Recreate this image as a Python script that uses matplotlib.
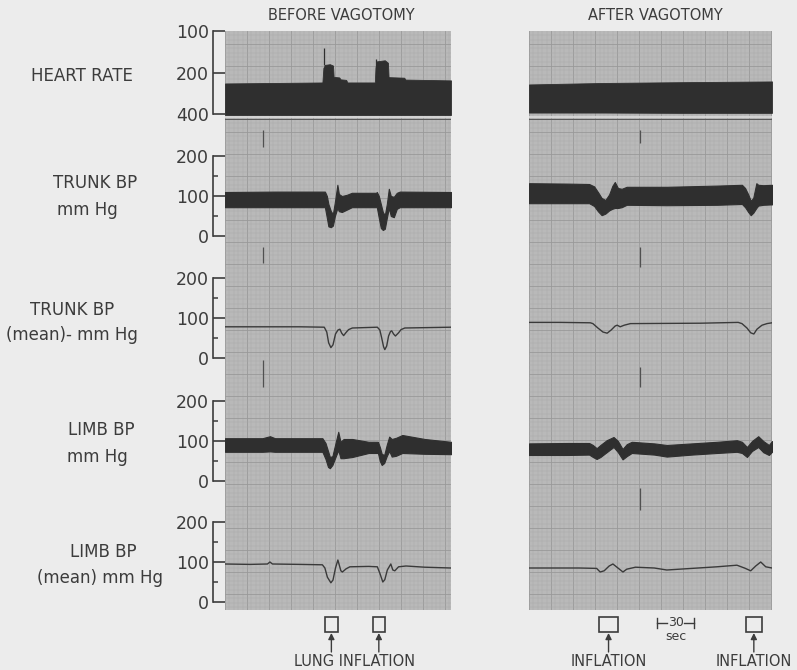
import matplotlib
matplotlib.use("Agg")
import matplotlib.pyplot as plt
from matplotlib.ticker import MultipleLocator, FixedLocator, NullLocator, FuncFormatter
from matplotlib.patches import Rectangle
from matplotlib.transforms import blended_transform_factory

# ---------------- data (time in seconds, pressures in mm Hg, heart rate in beats/min) -------------
panel_titles = ["BEFORE VAGOTOMY", "AFTER VAGOTOMY"]
panel_duration = [181, 194]

# Heart rate band (low = upper visual edge, high = lower visual edge; axis is inverted log)
hr_before_t = [0, 40, 78, 78.8, 80, 84, 86.5, 87, 91.5, 92.5, 97, 98, 120, 120.5, 121.5, 128, 130.5,
               131, 143.5, 144.5, 181]
hr_before_low = [240, 238, 236, 185, 176, 174, 178, 215, 217, 224, 226, 236, 236, 185, 166, 163, 170,
                 216, 218, 225, 228]
hr_before_high = [406] * len(hr_before_t)
hr_before_spike_t = [79.2, 120.8]
hr_before_spike_tip = [132, 160]
hr_before_spike_base = [176, 185]

hr_after_t = [0, 60, 120, 194]
hr_after_low = [244, 238, 235, 232]
hr_after_high = [390, 390, 392, 392]
hr_baseline = 420

# Trunk BP (pulsatile band)
trunk_before_t = [0, 40, 78, 80, 81.6, 82.8, 84.8, 86.4, 88, 90, 91.2, 93.6, 97.6, 101.6, 121, 121.6,
                  123.2, 124.8, 126.4, 128, 129.6, 131.2, 132.8, 135.2, 137.6, 140, 181]
trunk_before_lo = [72, 72, 72, 72, 45, 24, 22, 26, 50, 70, 62, 60, 66, 72, 72, 72,
                   45, 20, 15, 18, 45, 70, 50, 47, 68, 72, 72]
trunk_before_hi = [110, 111, 111, 111, 100, 80, 62, 55, 85, 128, 105, 100, 103, 108, 108, 110,
                   100, 80, 60, 52, 80, 118, 100, 98, 108, 111, 110]

trunk_after_t = [0, 30, 48, 52, 55, 58, 61, 64, 66.5, 68.5, 71, 74, 78, 110, 150, 170, 172.5, 175,
                 177, 179, 181.5, 183, 187, 194]
trunk_after_lo = [82, 82, 82, 75, 62, 52, 56, 64, 68, 70, 70, 72, 78, 77, 78, 80, 72, 60,
                  52, 58, 70, 76, 78, 79]
trunk_after_hi = [132, 131, 130, 124, 110, 95, 90, 104, 125, 135, 120, 118, 123, 123, 126, 128, 120, 104,
                  88, 95, 132, 128, 127, 128]

# Trunk BP (mean)
trunk_mean_before_t = [0, 60, 79.5, 81.5, 83, 84.8, 86.5, 88.5, 90.5, 92, 93.5, 95, 97, 99, 102, 122,
                       124, 125.5, 127, 128, 129.5, 131, 132.5, 133.5, 135, 136.5, 139, 141, 144, 181]
trunk_mean_before = [78, 78, 77, 65, 38, 26, 33, 60, 70, 72, 62, 56, 64, 71, 75, 77,
                     70, 50, 28, 21, 30, 55, 66, 68, 60, 55, 63, 71, 75, 77]
trunk_mean_after_t = [0, 25, 49, 51, 55, 59, 62.4, 65.6, 68.8, 70.4, 72.8, 76, 81, 137, 167, 170, 174,
                      177, 179.5, 182, 186, 190, 194]
trunk_mean_after = [89, 89, 88, 86, 75, 65, 62, 70, 80, 82, 78, 82, 86, 87, 89, 86, 75,
                    63, 60, 72, 82, 86, 88]

# Limb BP (pulsatile band)
limb_before_t = [0, 30, 36, 40, 78, 80.5, 82.5, 84, 86, 88.5, 90.7, 92.5, 95, 102, 115, 122.5, 124,
                 125.5, 127.5, 129.5, 131.5, 133.5, 137, 142, 160, 181]
limb_before_lo = [73, 73, 74, 73, 73, 55, 35, 32, 40, 60, 77, 57, 57, 60, 70, 70, 50,
                  40, 45, 62, 75, 61, 63, 70, 68, 67]
limb_before_hi = [107, 107, 112, 107, 107, 95, 75, 60, 62, 95, 123, 98, 105, 105, 98, 98, 85,
                  68, 65, 90, 111, 105, 108, 115, 105, 98]

limb_after_t = [0, 30, 48, 51, 54, 57, 62, 67.5, 71, 74.7, 78, 82, 100, 110, 130, 150, 166, 170, 174,
                178, 183, 187, 191.5, 194]
limb_after_lo = [65, 65, 66, 60, 55, 60, 72, 85, 72, 54, 62, 70, 66, 61, 66, 70, 73, 70, 60,
                 75, 85, 72, 65, 73]
limb_after_hi = [94, 95, 95, 90, 82, 90, 102, 110, 100, 80, 92, 98, 94, 90, 94, 98, 102, 98, 85,
                 100, 112, 100, 90, 100]

# Limb BP (mean)
limb_mean_before_t = [0, 20, 34, 36, 38, 60, 78, 80, 82, 84.8, 86.5, 88.5, 90.4, 92.8, 94, 97, 100, 115,
                      122, 124, 126.4, 128, 130, 132.8, 134.4, 136, 139, 145, 160, 181]
limb_mean_before = [95, 94, 95, 100, 95, 94, 93, 85, 62, 48, 55, 85, 105, 78, 75, 83, 88, 89,
                    88, 72, 50, 56, 80, 95, 80, 78, 88, 90, 87, 85]
limb_mean_after_t = [0, 40, 54, 56.8, 60, 64, 67, 71, 75, 78, 85, 100, 110, 130, 150, 166, 172, 177,
                     181, 185, 189, 194]
limb_mean_after = [85, 85, 84, 75, 78, 90, 95, 85, 75, 82, 87, 85, 80, 84, 88, 92, 85, 78,
                   90, 100, 88, 85]

# Timing marks on the paper (time, list of vertical pixel spans)
event_mark_t = [30.4, 89]
event_mark_spans = [[(130, 147), (247, 263), (360, 387)],
                    [(130, 143), (247, 267), (367, 387), (488, 510)]]

# Lung inflation periods (start, end) in seconds
inflation_before = [(80, 90.4), (118.4, 128)]
inflation_after = [(56, 71), (173, 186)]
inflation_labels_before = "LUNG INFLATION"
inflation_labels_after = ["INFLATION", "INFLATION"]
time_bar = (102, 132)  # 30 sec

channel_labels = [("HEART RATE", None), ("TRUNK BP", "mm Hg"), ("TRUNK BP", "(mean)- mm Hg"),
                  ("LIMB BP", "mm Hg"), ("LIMB BP", "(mean) mm Hg")]

# ---------------- layout ----------------
W, H = 797, 670
fig = plt.figure(figsize=(W / 100, H / 100), dpi=100, facecolor="#ececec")
INK = "#2f2f2f"
TXT = "#3c3c3c"
PANEL = "#b9b9b9"


def fx(px):
    return px / W


def fy(py):
    return 1 - py / H


def add_ax(x0, y0, x1, y1, **kw):
    return fig.add_axes([fx(x0), fy(y1), (x1 - x0) / W, (y1 - y0) / H], **kw)


panel_x = [(225, 451), (529, 772)]
panel_top, panel_bot = 31, 610

# channel rows: (pixel top, pixel bottom, y-limits)
rows = [(31, 120, (441.6, 100)),
        (120, 258, (-55, 290)),
        (258, 380, (-55, 250)),
        (380, 502, (-52.5, 252.5)),
        (502, 610, (-20, 250))]

band_data = {
    0: [(trunk_before_t, trunk_before_lo, trunk_before_hi), (limb_before_t, limb_before_lo, limb_before_hi)],
    1: [(trunk_after_t, trunk_after_lo, trunk_after_hi), (limb_after_t, limb_after_lo, limb_after_hi)],
}
mean_data = {
    0: [(trunk_mean_before_t, trunk_mean_before), (limb_mean_before_t, limb_mean_before)],
    1: [(trunk_mean_after_t, trunk_mean_after), (limb_mean_after_t, limb_mean_after)],
}
hr_data = {0: (hr_before_t, hr_before_low, hr_before_high), 1: (hr_after_t, hr_after_low, hr_after_high)}

for p, (x0, x1) in enumerate(panel_x):
    T = panel_duration[p]
    bg = add_ax(x0, panel_top, x1, panel_bot, facecolor=PANEL, zorder=0)
    bg.set_xlim(0, T)
    bg.set_ylim(panel_bot, panel_top)
    bg.xaxis.set_major_locator(MultipleLocator(17.6))
    bg.xaxis.set_minor_locator(MultipleLocator(3.52))
    bg.yaxis.set_major_locator(MultipleLocator(22))
    bg.yaxis.set_minor_locator(MultipleLocator(4.4))
    bg.grid(which="major", color="#999999", lw=0.6)
    bg.grid(which="minor", color="#aaaaaa", lw=0.35)
    bg.tick_params(which="both", length=0, labelbottom=False, labelleft=False)
    for s in bg.spines.values():
        s.set_visible(False)
    bg.set_axisbelow(True)
    for (ya, yb) in event_mark_spans[p]:
        bg.vlines(event_mark_t[p], ya, yb, color="#505050", lw=0.9, zorder=2)

    axes = []
    for r, (ytop, ybot, lim) in enumerate(rows):
        ax = add_ax(x0, ytop, x1, ybot, facecolor="none", zorder=3)
        if r == 0:
            ax.set_yscale("log")
        ax.set_xlim(0, T)
        ax.set_ylim(*lim)
        for s in ax.spines.values():
            s.set_visible(False)
        ax.set_xticks([])
        ax.yaxis.set_minor_locator(NullLocator())
        if p == 0:
            sp = ax.spines["left"]
            sp.set_visible(True)
            sp.set_position(("outward", 12 * 0.72))
            sp.set_linewidth(1.2)
            sp.set_color(TXT)
            if r == 0:
                sp.set_bounds(100, 400)
                ax.yaxis.set_major_locator(FixedLocator([100, 200, 400]))
            else:
                sp.set_bounds(0, 200)
                ax.yaxis.set_major_locator(FixedLocator([0, 100, 200]))
                ax.yaxis.set_minor_locator(FixedLocator([50, 150]))
            ax.yaxis.set_major_formatter(FuncFormatter(lambda v, pos: f"{v:g}"))
            ax.tick_params(axis="y", which="major", direction="in", length=12 * 0.72, width=1.2,
                           color=TXT, pad=3, labelsize=12.5, labelcolor=TXT)
            ax.tick_params(axis="y", which="minor", direction="in", length=5 * 0.72, width=1.1,
                           color=TXT)
        else:
            ax.set_yticks([])
        axes.append(ax)

    # heart rate
    t, lo, hi = hr_data[p]
    axes[0].fill_between(t, lo, hi, color=INK, lw=0.6)
    axes[0].axhline(hr_baseline, color="#d6d6d6", lw=1.3)
    axes[0].axhline(hr_baseline + 12, color="#5a5a5a", lw=0.8)
    if p == 0:
        axes[0].vlines(hr_before_spike_t, hr_before_spike_base, hr_before_spike_tip, color=INK, lw=0.9)

    # pulsatile bands
    for ax, (t, lo, hi) in zip([axes[1], axes[3]], band_data[p]):
        ax.fill_between(t, lo, hi, color=INK, lw=0.8, edgecolor=INK)
    # mean traces
    for ax, (t, v) in zip([axes[2], axes[4]], mean_data[p]):
        ax.plot(t, v, color="#3a3a3a", lw=1.0)

    # titles
    fig.text(fx((x0 + x1) / 2 + (3 if p == 0 else 5)), fy(15), panel_titles[p], ha="center",
             va="center", fontsize=10.5, color=TXT)

    # inflation markers
    trans = blended_transform_factory(bg.transData, fig.transFigure)
    infl = inflation_before if p == 0 else inflation_after
    for (a, b) in infl:
        bg.add_patch(Rectangle((a, fy(632)), b - a, fy(617) - fy(632), transform=trans,
                               fill=False, edgecolor=TXT, lw=1.2, clip_on=False))
        c = (a + b) / 2
        bg.annotate("", xy=(c, fy(633)), xytext=(c, fy(652)), xycoords=trans, textcoords=trans,
                    annotation_clip=False,
                    arrowprops=dict(arrowstyle="-|>", color=TXT, lw=1.0, mutation_scale=9,
                                    shrinkA=0, shrinkB=0))
    if p == 0:
        c = (infl[0][0] + infl[1][1]) / 2
        bg.text(c, fy(661), inflation_labels_before, transform=trans, ha="center", va="center",
                fontsize=10.5, color=TXT)
    else:
        for (a, b), lab in zip(infl, inflation_labels_after):
            bg.text((a + b) / 2, fy(661), lab, transform=trans, ha="center", va="center",
                    fontsize=10.5, color=TXT)
        # 30 sec time bar
        ta, tb = time_bar
        tm = (ta + tb) / 2
        ybar = fy(623)
        bg.plot([ta, ta + 8], [ybar, ybar], transform=trans, color=TXT, lw=1.0, clip_on=False)
        bg.plot([tb - 8, tb], [ybar, ybar], transform=trans, color=TXT, lw=1.0, clip_on=False)
        bg.plot([ta, ta], [fy(618), fy(628)], transform=trans, color=TXT, lw=1.0, clip_on=False)
        bg.plot([tb, tb], [fy(618), fy(628)], transform=trans, color=TXT, lw=1.0, clip_on=False)
        bg.text(tm, ybar, "30", transform=trans, ha="center", va="center", fontsize=9, color=TXT)
        bg.text(tm, fy(636), "sec", transform=trans, ha="center", va="center", fontsize=9, color=TXT)

# channel labels on the left
label_pos = [((82, 76), None), ((95, 183), (87, 210)), ((72, 310), (72, 335)),
             ((101, 430), (97, 457)), ((103, 552), (100, 578))]
for (l1, l2), (p1, p2) in zip(channel_labels, label_pos):
    fig.text(fx(p1[0]), fy(p1[1]), l1, ha="center", va="center", fontsize=12, color=TXT)
    if l2:
        fig.text(fx(p2[0]), fy(p2[1]), l2, ha="center", va="center", fontsize=12, color=TXT)

fig.savefig("out.png", dpi=100, facecolor=fig.get_facecolor())
